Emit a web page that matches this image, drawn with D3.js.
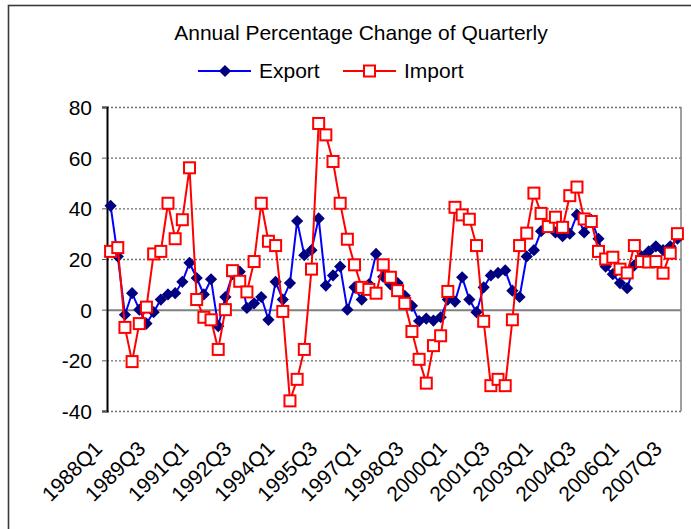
<!DOCTYPE html>
<html>
<head>
<meta charset="utf-8">
<script src="https://cdn.jsdelivr.net/npm/d3@7"></script>
<style>
  body { margin: 0; background: #fff; }
  text { font-family: "Liberation Sans", Arial, sans-serif; fill: #000; }
</style>
</head>
<body>
<div id="line_chart"></div>
<script>
// quarters 1988Q1 .. 2007Q4
const years = d3.range(1988, 2008);
const quarters = ["Q1", "Q2", "Q3", "Q4"];
const categories = [];
years.forEach((yr) => quarters.forEach((q) => categories.push(yr + q)));

const tickLabels = ["1988Q1", "1989Q3", "1991Q1", "1992Q3", "1994Q1", "1995Q3", "1997Q1",
  "1998Q3", "2000Q1", "2001Q3", "2003Q1", "2004Q3", "2006Q1", "2007Q3"];

const yTicks = [-40, -20, 0, 20, 40, 60, 80];

const exportValues = [
  41, 21, -2, 6.5, 0, -5.5, -1, 4,
  6, 6.5, 11, 18.5, 12.5, 6, 12, -6.5,
  5, 14, 15, 0.7, 2.5, 5, -4, 11,
  4, 10.5, 35, 21.5, 23.5, 36, 9.5, 13.5,
  17, 0, 8.8, 4, 10, 22, 13, 10,
  10.5, 5.5, 1.5, -4.5, -3.5, -4.3, -3, 4,
  3.2, 12.8, 4, -1, 8.8, 13.5, 14.5, 15.5,
  7.5, 5, 21, 23.5, 31, 33, 30.5, 29,
  30, 37.5, 30.5, 35.5, 28, 17, 14, 10.5,
  8.5, 17.5, 21, 23, 25, 23.5, 25, 28
];

const importValues = [
  23, 24.5, -7, -20.5, -5.5, 1, 22, 23,
  42, 28, 35.5, 56, 4, -3, -4, -15.7,
  0, 15.4, 11.2, 7, 19, 42, 27, 25.3,
  -0.7, -36, -27.5, -15.7, 16, 73.5, 69, 58.5,
  42, 27.8, 17.7, 8.8, 8, 6.5, 17.7, 12.8,
  7.5, 2.5, -8.6, -19.6, -29, -14.2, -10.3, 7.2,
  40.4, 37.4, 35.7, 25.3, -4.6, -30, -27.5, -30,
  -4, 25.3, 30.2, 46, 38, 32.8, 36.5, 32.5,
  45, 48.4, 35.8, 34.8, 23, 20, 20.7, 16,
  14.5, 25.3, 19, 18.8, 19, 14.4, 22.3, 30
];

const seriesNames = ["Export", "Import"];

///////////////////////////// Create SVG

var w = 691;
var h = 529;
var fontSize = 21;

var plot = { left: 107, right: 681, top: 107, bottom: 411 };

var svg = d3.select("#line_chart").append("svg")
  .attr("width", w)
  .attr("height", h);

// outer chart frame (runs off the right / bottom edge)
svg.append("rect")
  .attr("x", 8.5)
  .attr("y", 5.5)
  .attr("width", 720)
  .attr("height", 560)
  .attr("fill", "none")
  .attr("stroke", "#3a3a3a")
  .attr("stroke-width", 1.6);

///////////////////////////// Create Scale

var x = d3.scaleBand()
  .domain(categories)
  .range([plot.left, plot.right]);

var y = d3.scaleLinear()
  .domain([-40, 80])
  .range([plot.bottom, plot.top]);

var cx = (d) => x(d) + x.bandwidth() / 2;

///////////////////////////// Grid + Axis

var grid = svg.append("g")
  .attr("transform", "translate(" + plot.left + ",0)")
  .call(d3.axisLeft(y).tickValues(yTicks).tickSize(-(plot.right - plot.left)).tickFormat(""));
grid.select(".domain").remove();
grid.selectAll(".tick line")
  .attr("stroke", (d) => d === 0 ? "#808080" : "#6e6e6e")
  .attr("stroke-width", (d) => d === 0 ? 2 : 1.4)
  .attr("stroke-dasharray", (d) => d === 0 ? null : "2,2");

// right edge of plot area
svg.append("line")
  .attr("x1", plot.right).attr("x2", plot.right)
  .attr("y1", plot.top).attr("y2", plot.bottom)
  .attr("stroke", "#808080")
  .attr("stroke-width", 1.5);

var yAxis = svg.append("g")
  .attr("transform", "translate(" + plot.left + ",0)")
  .call(d3.axisLeft(y).tickValues(yTicks).tickSize(5).tickPadding(10).tickFormat((d) => String(d)));
yAxis.select(".domain").attr("stroke", "#000").attr("stroke-width", 2);
yAxis.selectAll(".tick line").attr("stroke", "#555");
yAxis.selectAll(".tick text")
  .attr("font-size", fontSize)
  .attr("fill", "#000")
  .attr("x", -15)
  .attr("dy", "0.35em");

var xAxis = svg.append("g")
  .attr("transform", "translate(0," + plot.bottom + ")")
  .call(d3.axisBottom(x).tickValues(tickLabels).tickSize(0));
xAxis.select(".domain").remove();
xAxis.selectAll(".tick text")
  .attr("font-size", fontSize)
  .attr("fill", "#000")
  .attr("text-anchor", "end")
  .attr("x", 0).attr("y", 0).attr("dy", 0)
  .attr("transform", "translate(-7,39) rotate(-45)");

///////////////////////////// Create Lines

var line = d3.line()
  .x((d, i) => cx(categories[i]))
  .y((d) => y(d));

var diamond = d3.symbol().type(d3.symbolDiamond2).size(95);

// Export
svg.append("path")
  .datum(exportValues)
  .attr("fill", "none")
  .attr("stroke", "#0000ff")
  .attr("stroke-width", 2)
  .attr("d", line);

svg.append("g").selectAll("path")
  .data(exportValues)
  .join("path")
  .attr("transform", (d, i) => "translate(" + cx(categories[i]) + "," + y(d) + ")")
  .attr("d", diamond)
  .attr("fill", "#000080");

// Import
svg.append("path")
  .datum(importValues)
  .attr("fill", "none")
  .attr("stroke", "#ff0000")
  .attr("stroke-width", 2)
  .attr("d", line);

svg.append("g").selectAll("rect")
  .data(importValues)
  .join("rect")
  .attr("x", (d, i) => cx(categories[i]) - 5.5)
  .attr("y", (d) => y(d) - 5.5)
  .attr("width", 11)
  .attr("height", 11)
  .attr("fill", "#fff")
  .attr("stroke", "#ff0000")
  .attr("stroke-width", 2);

///////////////////////////// Title + Legend

svg.append("text")
  .attr("x", 361)
  .attr("y", 40)
  .attr("text-anchor", "middle")
  .attr("font-size", fontSize)
  .text("Annual Percentage Change of Quarterly");

var legend = svg.append("g");
var legendX = [198, 343];

seriesNames.forEach((name, k) => {
  var lx = legendX[k];
  legend.append("line")
    .attr("x1", lx).attr("x2", lx + 53)
    .attr("y1", 71).attr("y2", 71)
    .attr("stroke", k === 0 ? "#0000ff" : "#ff0000")
    .attr("stroke-width", 2);
  if (k === 0) {
    legend.append("path")
      .attr("transform", "translate(" + (lx + 27) + ",71)")
      .attr("d", diamond)
      .attr("fill", "#000080");
  } else {
    legend.append("rect")
      .attr("x", lx + 21).attr("y", 65.5)
      .attr("width", 11).attr("height", 11)
      .attr("fill", "#fff")
      .attr("stroke", "#ff0000")
      .attr("stroke-width", 2);
  }
  legend.append("text")
    .attr("x", lx + 61)
    .attr("y", 78)
    .attr("font-size", fontSize)
    .text(name);
});
</script>
</body>
</html>
